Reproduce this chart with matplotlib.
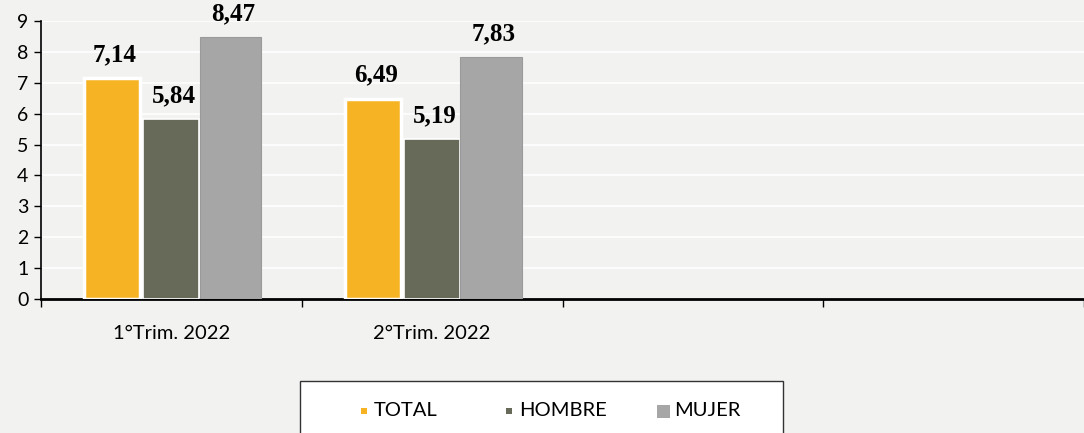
import matplotlib.pyplot as plt
from matplotlib.patches import Rectangle
import numpy as np

# data
categories = ['1°Trim. 2022', '2°Trim. 2022', '', '']
series = ['TOTAL', 'HOMBRE', 'MUJER']
total = [7.14, 6.49, None, None]
hombre = [5.84, 5.19, None, None]
mujer = [8.47, 7.83, None, None]

colors = ['#F6B324', '#676A59', '#A6A6A6']
bg = '#F2F2F0'

W, H = 1084, 433
fig = plt.figure(figsize=(W / 100, H / 100), dpi=100, facecolor=bg)
ax = fig.add_axes([41 / W, 1 - 299 / H, 1 - 41 / W, (299 - 21) / H])
ax.set_facecolor(bg)

x = np.arange(len(categories))
offsets = [-0.226, 0.0, 0.226]
widths = [0.215, 0.215, 0.235]
edges = ['white', 'white', '#9a9a9a']
lws = [2.5, 1.2, 0.8]

for vals, off, w, c, ec, lw in zip([total, hombre, mujer], offsets, widths, colors, edges, lws):
    for i, v in enumerate(vals):
        if v is None:
            continue
        ax.bar(x[i] + off, v, width=w, color=c, edgecolor=ec, linewidth=lw, zorder=3)
        ax.text(x[i] + off + 0.01, v + 0.38, f'{v:.2f}'.replace('.', ','),
                ha='center', va='bottom', fontsize=18, fontweight='bold',
                family='Liberation Serif', zorder=4)

# axis ranges: the plot runs past the right edge of the image
ax.set_xlim(-0.5, -0.5 + (W - 41) / 265)
ax.set_ylim(0, 9)

ax.set_yticks(range(0, 10))
ax.set_yticklabels([str(i) for i in range(0, 10)], fontsize=14, family='Lato')
ax.tick_params(axis='y', length=5, width=1, pad=4)

ax.set_xticks(x)
ax.set_xticklabels(categories, fontsize=14.5, family='Lato')
ax.tick_params(axis='x', which='major', length=0, pad=19)
ax.set_xticks(np.arange(-0.5, len(categories), 1), minor=True)
ax.tick_params(axis='x', which='minor', length=6, width=1)

ax.grid(axis='y', color='white', linewidth=1.2, zorder=0)
for s in ['top', 'right']:
    ax.spines[s].set_visible(False)
ax.spines['left'].set_linewidth(1.2)
ax.spines['bottom'].set_linewidth(2)

# legend box
box = Rectangle((300 / W, 1 - 440 / H), 483 / W, 59 / H, transform=fig.transFigure,
                facecolor='white', edgecolor='#333333', linewidth=1, clip_on=False)
fig.patches.append(box)
leg_y = 1 - 411 / H
marker_x = [361, 506, 657]
marker_sz = [6, 6, 13]
text_x = [374, 519, 674]
for name, c, mx, ms, tx in zip(series, colors, marker_x, marker_sz, text_x):
    fig.patches.append(Rectangle((mx / W, leg_y - ms / 2 / H), ms / W, ms / H,
                                 transform=fig.transFigure, facecolor=c, edgecolor='none'))
    fig.text(tx / W, leg_y, name, ha='left', va='center', fontsize=14.5, family='Lato')

plt.savefig('out.png', dpi=100, facecolor=bg)
